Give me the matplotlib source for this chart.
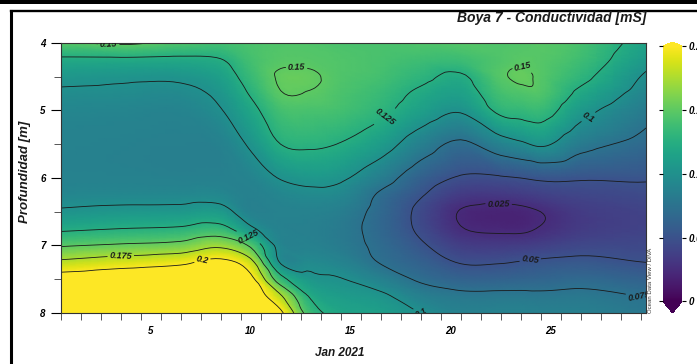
import numpy as np
import matplotlib
matplotlib.use('Agg')
import matplotlib.pyplot as plt
import matplotlib.tri as mtri
import matplotlib.colors as mcolors
import matplotlib.cm as cm
from matplotlib.lines import Line2D
from matplotlib.patches import Rectangle

plt.rcParams['font.family'] = ['Liberation Sans', 'DejaVu Sans']

# --- dati (conduttivita' mS) ---
depths = [4.0, 4.25, 4.5, 4.75, 5.0, 5.5, 6.0, 6.25, 6.5, 6.75, 7.0, 7.25, 7.5, 7.75, 8.0]
days = [1, 4, 7, 9, 10.5, 12, 13.5, 15, 17, 19, 21, 23, 24, 25, 27, 30.27]

# una colonna per giorno, dall'alto (4 m) al fondo (8 m)
day01 = [0.148, 0.121, 0.106, 0.097, 0.092, 0.088, 0.088, 0.092, 0.103, 0.121, 0.148, 0.180, 0.212, 0.225, 0.230]
day04 = [0.153, 0.121, 0.104, 0.096, 0.091, 0.087, 0.088, 0.093, 0.106, 0.125, 0.153, 0.188, 0.218, 0.230, 0.235]
day07 = [0.145, 0.120, 0.104, 0.095, 0.090, 0.086, 0.087, 0.093, 0.107, 0.128, 0.158, 0.195, 0.223, 0.235, 0.240]
day09 = [0.140, 0.124, 0.113, 0.105, 0.099, 0.088, 0.087, 0.093, 0.108, 0.133, 0.170, 0.207, 0.230, 0.240, 0.240]
day10h = [0.143, 0.140, 0.135, 0.127, 0.118, 0.103, 0.090, 0.087, 0.088, 0.104, 0.146, 0.183, 0.207, 0.218, 0.228]
day12 = [0.145, 0.147, 0.152, 0.149, 0.140, 0.125, 0.101, 0.092, 0.088, 0.088, 0.092, 0.098, 0.135, 0.178, 0.205]
day13h = [0.145, 0.147, 0.152, 0.149, 0.142, 0.128, 0.106, 0.095, 0.088, 0.086, 0.088, 0.095, 0.106, 0.122, 0.137]
day15 = [0.143, 0.145, 0.145, 0.143, 0.140, 0.124, 0.103, 0.093, 0.085, 0.082, 0.083, 0.090, 0.101, 0.110, 0.118]
day17 = [0.143, 0.142, 0.140, 0.135, 0.130, 0.110, 0.085, 0.072, 0.068, 0.067, 0.070, 0.074, 0.088, 0.104, 0.112]
day19 = [0.145, 0.138, 0.130, 0.121, 0.113, 0.087, 0.062, 0.052, 0.045, 0.046, 0.053, 0.062, 0.072, 0.087, 0.100]
day21 = [0.147, 0.137, 0.122, 0.113, 0.102, 0.071, 0.048, 0.035, 0.024, 0.026, 0.037, 0.049, 0.063, 0.080, 0.088]
day23 = [0.145, 0.145, 0.147, 0.140, 0.130, 0.089, 0.048, 0.033, 0.020, 0.022, 0.035, 0.049, 0.063, 0.080, 0.088]
day24 = [0.146, 0.148, 0.153, 0.144, 0.133, 0.096, 0.050, 0.035, 0.021, 0.022, 0.036, 0.051, 0.064, 0.080, 0.088]
day25 = [0.148, 0.147, 0.147, 0.145, 0.135, 0.103, 0.053, 0.038, 0.025, 0.026, 0.038, 0.053, 0.065, 0.079, 0.087]
day27 = [0.142, 0.138, 0.131, 0.120, 0.108, 0.083, 0.052, 0.042, 0.035, 0.035, 0.043, 0.055, 0.068, 0.080, 0.086]
day30 = [0.115, 0.107, 0.097, 0.090, 0.082, 0.068, 0.052, 0.045, 0.040, 0.040, 0.044, 0.050, 0.062, 0.074, 0.080]

columns = [day01, day04, day07, day09, day10h, day12, day13h, day15,
           day17, day19, day21, day23, day24, day25, day27, day30]

levels = [0.025, 0.05, 0.075, 0.1, 0.125, 0.15, 0.175, 0.2]
cbar_ticks = [0, 0.05, 0.1, 0.15, 0.2]
cbar_labels = ['0', '0.05', '0.1', '0.15', '0.2']
xtick_pos = [5.5, 10.5, 15.5, 20.5, 25.5]
xtick_labels = ['5', '10', '15', '20', '25']

# posizioni (giorno, profondita') delle etichette delle isolinee
label_pos = [(3.4, 4.03), (12.8, 4.36), (17.3, 5.13), (24.1, 4.36), (27.4, 5.10),
             (10.5, 6.80), (4.0, 7.14), (8.1, 7.24), (22.9, 6.40), (24.5, 7.26),
             (29.9, 7.77), (19.3, 7.97)]


def main():
    Z = np.array(columns).T
    T, D = np.meshgrid(days, depths)
    nx, ny = len(days), len(depths)

    tris = []
    for j in range(ny - 1):
        for i in range(nx - 1):
            a = j * nx + i
            b, c = a + 1, a + nx
            d = c + 1
            tris.append([a, b, d])
            tris.append([a, d, c])

    # scala approssimativa in pixel per un'interpolazione isotropa
    sx, sy = 20.0, 67.5
    tri = mtri.Triangulation(T.ravel() * sx, D.ravel() * sy, tris)
    interp = mtri.CubicTriInterpolator(tri, Z.ravel(), kind='geom')
    tri_f, z_f = mtri.UniformTriRefiner(tri).refine_field(Z.ravel(), triinterpolator=interp, subdiv=3)
    tri_p = mtri.Triangulation(tri_f.x / sx, tri_f.y / sy, tri_f.triangles)

    fig = plt.figure(figsize=(6.97, 3.64), dpi=100)
    ax = fig.add_axes([0.0871, 0.1401, 0.8397, 0.7418])
    norm = mcolors.Normalize(0, 0.2)

    ax.tripcolor(tri_p, z_f, shading='gouraud', cmap='viridis', norm=norm)
    cs = ax.tricontour(tri_p, z_f, levels=levels, colors='#1a1a1a', linewidths=0.6)
    texts = ax.clabel(cs, manual=label_pos, fmt=lambda v: f'{v:g}', fontsize=6.5,
                      inline=True, inline_spacing=2)
    for t in texts:
        t.set_fontweight('bold')
        t.set_fontstyle('italic')
        t.set_color('#1a1a1a')
        t.set_clip_box(ax.bbox)
        t.set_clip_on(True)

    ax.set_xlim(1, 30.27)
    ax.set_ylim(8, 4)
    ax.set_yticks([4, 5, 6, 7, 8])
    ax.set_yticklabels(['4', '5', '6', '7', '8'])
    ax.set_yticks([4.5, 5.5, 6.5, 7.5], minor=True)
    ax.set_xticks(xtick_pos)
    ax.set_xticklabels(xtick_labels)
    ax.set_xticks(np.arange(1, 31), minor=True)
    ax.tick_params(axis='x', which='major', length=0, pad=9)
    ax.tick_params(axis='x', which='minor', length=5, width=0.7, color='#555555')
    ax.tick_params(axis='y', which='major', length=7, width=0.8, pad=4)
    ax.tick_params(axis='y', which='minor', length=5, width=0.7, color='#555555')
    for lab in ax.get_xticklabels() + ax.get_yticklabels():
        lab.set_fontweight('bold')
        lab.set_fontstyle('italic')
        lab.set_fontsize(7)
    for sp in ax.spines.values():
        sp.set_color('#333333')
        sp.set_linewidth(0.8)

    # barra dei colori
    cax = fig.add_axes([663 / 697, 51 / 364, 19 / 697, 271 / 364])
    cb = fig.colorbar(cm.ScalarMappable(norm=norm, cmap='viridis'), cax=cax,
                      extend='both', extendfrac=[0.045, 0.015], ticks=cbar_ticks)
    cb.ax.set_yticklabels(cbar_labels)
    cb.outline.set_visible(False)
    cax.tick_params(axis='y', which='both', left=True, right=True, length=3,
                    width=0.8, direction='out', pad=2)
    for lab in cax.get_yticklabels():
        lab.set_fontweight('bold')
        lab.set_fontstyle('italic')
        lab.set_fontsize(7)

    txt = dict(fontweight='bold', fontstyle='italic', color='#1a1a1a')
    fig.text(0.9268, 1 - 18 / 364, 'Boya 7 - Conductividad [mS]', ha='right', va='center',
             fontsize=10, **txt)
    fig.text(25 / 697, 1 - 172 / 364, 'Profundidad [m]', rotation=90, ha='center',
             va='center', fontsize=9.5, **txt)
    fig.text(340 / 697, 1 - 353 / 364, 'Jan 2021', ha='center', va='center',
             fontsize=8.5, **txt)
    fig.text(651 / 697, 1 - 313 / 364, 'Ocean Data View / DIVA', rotation=90,
             ha='center', va='bottom', fontsize=4.3, color='#333333')

    # cornice nera dello screenshot
    fig.add_artist(Rectangle((0, 1 - 4 / 364), 1, 4 / 364, transform=fig.transFigure,
                             color='black', lw=0))
    fig.add_artist(Line2D([10.5 / 697, 1], [1 - 10.5 / 364] * 2, color='black', lw=1.7))
    fig.add_artist(Line2D([10.5 / 697] * 2, [0, 1 - 10.5 / 364], color='black', lw=2.2))

    fig.savefig('out.png', dpi=100)


if __name__ == "__main__":
    main()
